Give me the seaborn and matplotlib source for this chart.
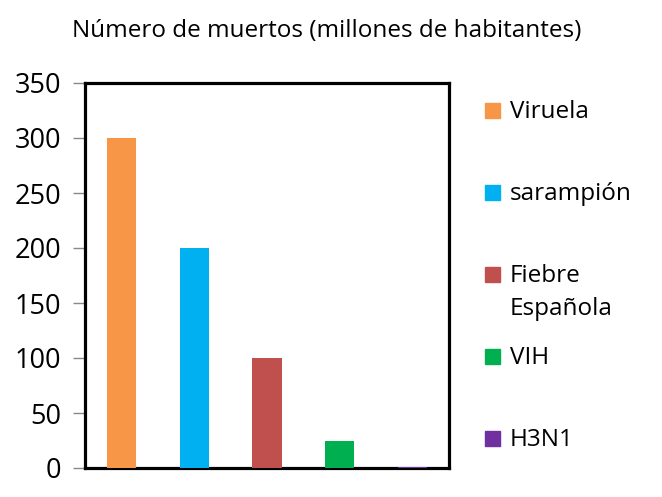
import matplotlib
matplotlib.use("Agg")
import matplotlib.pyplot as plt
import seaborn as sns
import pandas as pd
from matplotlib.patches import Rectangle

# datos
enfermedades = ["Viruela", "sarampión", "Fiebre Española", "VIH", "H3N1"]
etiquetas = ["Viruela", "sarampión", "Fiebre\nEspañola", "VIH", "H3N1"]
muertos = [300, 200, 100, 25, 1]
colores = ["#F79646", "#00B0F0", "#C0504D", "#00B050", "#7030A0"]
yticks = [0, 50, 100, 150, 200, 250, 300, 350]

df = pd.DataFrame({"enfermedad": enfermedades, "muertos": muertos})

sns.set_style("white")
plt.rcParams['font.family'] = ['Open Sans', 'DejaVu Sans']
plt.rcParams['text.color'] = 'black'
plt.rcParams['ytick.color'] = 'black'

fig = plt.figure(figsize=(6.62, 4.97), dpi=100)
ax = fig.add_axes([85/662, 1 - 468/497, (449 - 85)/662, (468 - 83)/497])

sns.barplot(data=df, x="enfermedad", y="muertos", hue="enfermedad",
            palette=colores, dodge=False, width=0.4, legend=False, ax=ax,
            saturation=1, linewidth=0)
# en el original las barras tapan el eje
for p in ax.patches:
    p.set_zorder(3)

ax.set_xlim(-0.5, 4.5)
ax.set_ylim(0, 350)
ax.set_yticks(yticks)
ax.set_yticklabels([str(v) for v in yticks], fontsize=19.5)
ax.set_xticks([])
ax.set_xlabel("")
ax.set_ylabel("")
ax.tick_params(axis="y", direction="out", length=9, width=1, color="#888888",
               labelcolor="black", pad=8, left=True)
for s in ax.spines.values():
    s.set_visible(True)
    s.set_color("black")
    s.set_linewidth(2.3)

fig.text(0.494, 1 - 31/497, "Número de muertos (millones de habitantes)",
         ha="center", va="center", fontsize=17.5)

# leyenda
for i, (lab, col) in enumerate(zip(etiquetas, colores)):
    yc = 1 - (110 + 82 * i) / 497
    fig.patches.append(Rectangle((485/662, yc - 8/497), 15/662, 15/497,
                                 transform=fig.transFigure, color=col, figure=fig))
    fig.text(510/662, yc + 10/497, lab, ha="left", va="top", fontsize=17.5,
             linespacing=1.5)

fig.savefig("out.png", dpi=100)
